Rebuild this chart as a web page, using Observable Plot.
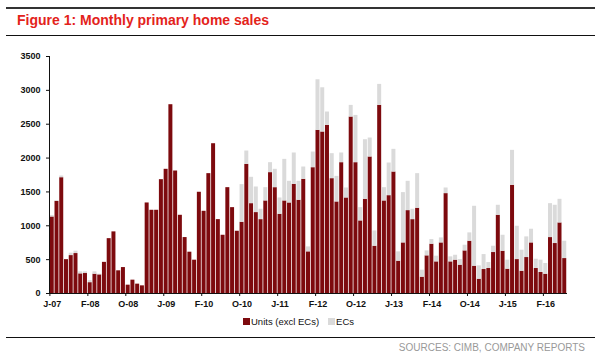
<!DOCTYPE html>
<html>
<head>
<meta charset="utf-8">
<script src="https://cdn.jsdelivr.net/npm/d3@7"></script>
<script src="https://cdn.jsdelivr.net/npm/@observablehq/plot@0.6"></script>
<style>
  html, body { margin: 0; padding: 0; background: #fff; }
  #wrap { position: relative; width: 600px; height: 360px; font-family: "Liberation Sans", Arial, sans-serif; overflow: hidden; }
  .rule1 { position: absolute; left: 6px; width: 589px; top: 7px; border-top: 2px solid #333; }
  .rule2 { position: absolute; left: 6px; width: 589px; top: 35px; border-top: 1.5px solid #111; }
  .rule3 { position: absolute; left: 6px; width: 589px; top: 337px; border-top: 1.5px solid #111; }
  #title { position: absolute; left: 17px; top: 12px; font-size: 14px; font-weight: bold; color: #e3231b; white-space: nowrap; }
  #chart { position: absolute; left: 0; top: 40px; }
  #legend { position: absolute; left: 243px; top: 316px; font-size: 9.5px; color: #111; white-space: nowrap; display: flex; align-items: center; }
  #legend .sw { display: inline-block; width: 7px; height: 7px; margin-right: 1px; }
  #legend .item { display: flex; align-items: center; margin-right: 9px; }
  #source { position: absolute; right: 15px; top: 342px; font-size: 10px; color: #999; white-space: nowrap; }
</style>
</head>
<body>
<div id="wrap">
  <div class="rule1"></div>
  <div id="title">Figure 1: Monthly primary home sales</div>
  <div class="rule2"></div>
  <div id="chart"></div>
  <div id="legend"></div>
  <div class="rule3"></div>
  <div id="source">SOURCES: CIMB, COMPANY REPORTS</div>
</div>
<script>
// Units sold (excluding executive condominiums), monthly
const units = [
  1130, 1360, 1710, 500, 560, 590, 290, 295, 160, 285,
  275, 460, 810, 910, 335, 383, 123, 197, 138, 113,
  1337, 1229, 1229, 1681, 1834, 2788, 1809, 1155, 826, 610,
  492, 1495, 1214, 1770, 2212, 1091, 860, 1563, 1268, 919,
  1052, 1907, 1327, 1195, 1091, 1367, 1785, 1563, 1170, 1367,
  1337, 1612, 1377, 1686, 615, 1858, 2409, 2385, 2483, 1696,
  1352, 1932, 1411, 2606, 1932, 1072, 1391, 2016, 698, 2778,
  1367, 1445, 1794, 477, 747, 1224, 1091, 1259, 241, 556,
  728, 467, 747, 1475, 467, 492, 418, 629, 772, 403,
  211, 354, 369, 605, 1155, 624, 359, 1598, 501, 329,
  531, 747, 369, 310, 285, 826, 738, 1042, 516
];
// Executive condominium units, monthly
const ecs = [
  20, 10, 25, 0, 35, 35, 30, 25, 30, 35,
  10, 0, 0, 0, 0, 0, 0, 0, 0, 0,
  0, 0, 0, 0, 0, 0, 0, 0, 0, 0,
  0, 0, 0, 0, 0, 0, 0, 0, 0, 0,
  556, 197, 389, 378, 153, 196, 147, 271, 241, 614,
  320, 463, 280, 182, 73, 231, 747, 653, 197, 369,
  378, 143, 147, 172, 698, 196, 880, 280, 226, 310,
  196, 482, 335, 138, 743, 433, 153, 511, 103, 73,
  69, 84, 74, 83, 74, 73, 83, 84, 123, 885,
  197, 221, 88, 93, 148, 236, 133, 516, 492, 310,
  305, 202, 137, 182, 158, 501, 565, 349, 256
];
// Category axis labels (shown every 8th month)
const tickLabels = ["J-07","F-08","O-08","J-09","F-10","O-10","J-11","F-12","O-12","J-13","F-14","O-14","J-15","F-16"];
const tickEvery = 8;
const seriesNames = ["Units (excl ECs)", "ECs"];
const seriesColors = ["#7d0a0e", "#dadada"];
const yTicks = [0, 500, 1000, 1500, 2000, 2500, 3000, 3500];

const months = units.map((_, i) => i);
const rows = [];
months.forEach(i => {
  rows.push({i, series: seriesNames[0], value: units[i]});
  rows.push({i, series: seriesNames[1], value: ecs[i]});
});
const tickIdx = tickLabels.map((_, k) => k * tickEvery);
const labelOf = new Map(tickIdx.map((d, k) => [d, tickLabels[k]]));

const chart = Plot.plot({
  width: 600,
  height: 275,
  marginLeft: 49,
  marginRight: 33,
  marginTop: 16,
  marginBottom: 22,
  style: {fontFamily: "Liberation Sans, Arial, sans-serif", fontSize: "9px", color: "#111", background: "transparent"},
  x: {type: "band", domain: months, padding: 0.16, align: 0.5, label: null},
  y: {domain: [0, 3500], label: null},
  color: {domain: seriesNames, range: seriesColors},
  marks: [
    Plot.barY(rows, Plot.stackY({x: "i", y: "value", fill: "series", order: seriesNames})),
    Plot.axisY({ticks: yTicks, tickSize: 3, tickPadding: 6, tickFormat: d => String(d), label: null, fontWeight: "bold"}),
    Plot.frame({anchor: "left", stroke: "#111"}),
    Plot.ruleY([0], {stroke: "#111"}),
    Plot.axisX({ticks: tickIdx, tickSize: 3, tickFormat: () => "", dx: -2.37, label: null}),
    Plot.axisX({ticks: tickIdx, tickSize: 0, tickPadding: 7, tickFormat: d => labelOf.get(d), label: null, fontWeight: "bold"})
  ]
});
document.getElementById("chart").appendChild(chart);

const legend = document.getElementById("legend");
seriesNames.forEach((name, k) => {
  const item = document.createElement("span");
  item.className = "item";
  const sw = document.createElement("span");
  sw.className = "sw";
  sw.style.background = seriesColors[k];
  item.appendChild(sw);
  item.appendChild(document.createTextNode(name));
  legend.appendChild(item);
});
</script>
</body>
</html>
